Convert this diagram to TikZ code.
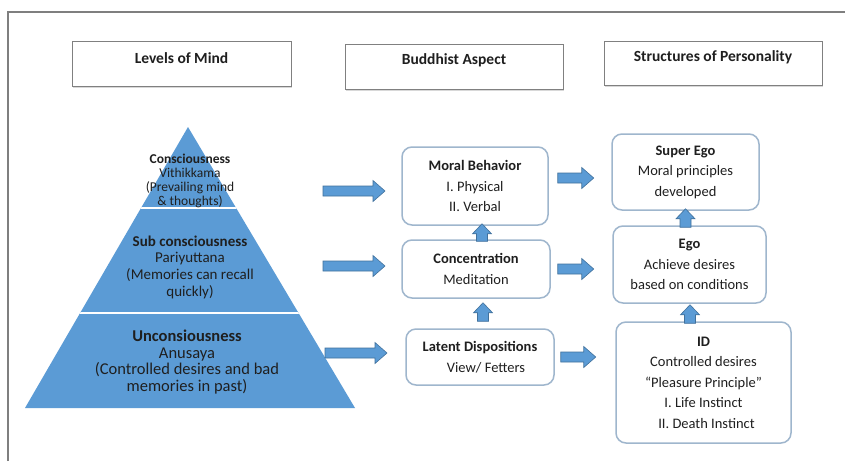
\documentclass[tikz,border=0pt]{standalone}
\usepackage{fontspec}
\setmainfont{Carlito}
\usetikzlibrary{calc,shadows}
\definecolor{pblue}{HTML}{5B9BD5}
\definecolor{aedge}{HTML}{41719C}
\definecolor{bedge}{HTML}{9FB6CD}
\definecolor{hedge}{HTML}{808080}
\definecolor{txt}{HTML}{1F1F1F}
\definecolor{frm}{HTML}{7F7F7F}
\newcommand{\blockarr}[5]{%
  \coordinate (ah) at ($(#2)!#5!(#1)$);
  \draw[barr] ($(#1)!#3!90:(#2)$) -- ($(ah)!#3!90:(#2)$) -- ($(ah)!#4!90:(#2)$) -- (#2)
    -- ($(ah)!#4!-90:(#2)$) -- ($(ah)!#3!-90:(#2)$) -- ($(#1)!#3!-90:(#2)$) -- cycle;}
\begin{document}
\begin{tikzpicture}[x=1pt,y=-1pt,
  hdr/.style={draw=hedge, line width=1pt, fill=white,
    drop shadow={shadow xshift=1.2pt, shadow yshift=-1.5pt, opacity=0.3}, inner sep=0pt},
  hdrtxt/.style={font=\fontsize{15.5}{18}\selectfont\bfseries, text=txt, inner sep=0pt},
  rbox/.style={draw=bedge, line width=1.5pt, rounded corners=10pt, fill=white, align=center,
    inner sep=0pt, text=txt, font=\fontsize{14.5}{20.5}\selectfont},
  pyrtxt/.style={align=center, text=txt, inner sep=0pt},
  barr/.style={fill=pblue, draw=aedge, line width=0.6pt, line join=miter}]
\useasboundingbox (0,0) rectangle (845,461);
\fill[white] (0,0) rectangle (845,461);
% frame
\draw[frm, line width=2pt] (8,461) -- (8,12) -- (845,12);
% headers
\node[hdr, minimum width=219pt, minimum height=45pt] (h1) at (181.5,64) {};
\node[hdrtxt] (h1t) at (181.5,58) {Levels of Mind};
\node[hdr, minimum width=218pt, minimum height=45pt] (h2) at (454,66.5) {};
\node[hdrtxt] (h2t) at (454,60) {Buddhist Aspect};
\node[hdr, minimum width=218pt, minimum height=44pt] (h3) at (713,63) {};
\node[hdrtxt] (h3t) at (713,57) {Structures of Personality};
% pyramid
\fill[pblue] (188,127) -- (355,408) -- (25,408) -- cycle;
\begin{scope}
  \clip (188,127) -- (355,408) -- (25,408) -- cycle;
  \draw[white, line width=2pt] (20,208) -- (360,208);
  \draw[white, line width=2pt] (20,313) -- (360,313);
\end{scope}
\node[pyrtxt, font=\fontsize{13.5}{14}\selectfont] (t1) at (190,181)
  {\textbf{Consciousness}\\Vithikkama\\(Prevailing mind\\\& thoughts)};
\node[pyrtxt, font=\fontsize{15}{16.7}\selectfont] (t2) at (190,267)
  {\textbf{Sub consciousness}\\Pariyuttana\\(Memories can recall\\quickly)};
\node[pyrtxt, font=\fontsize{16.5}{16.9}\selectfont] (t3) at (187,362)
  {\textbf{Unconsiousness}\\Anusaya\\(Controlled desires and bad\\memories in past)};
% middle boxes
\node[rbox, minimum width=146pt, minimum height=78pt] (mb) at (475,186)
  {\textbf{Moral Behavior}\\I. Physical\\II. Verbal};
\node[rbox, minimum width=148pt, minimum height=58pt] (co) at (476,269)
  {\textbf{Concentration}\\Meditation};
\node[rbox, minimum width=148pt, minimum height=56pt] (ld) at (480,357)
  {\textbf{Latent Dispositions}\\\hspace*{12pt}View/ Fetters};
% right boxes
\node[rbox, minimum width=147pt, minimum height=76pt] (se) at (685.5,172)
  {\textbf{Super Ego}\\Moral principles\\developed};
\node[rbox, minimum width=153pt, minimum height=77pt] (eg) at (689.5,264.5)
  {\textbf{Ego}\\Achieve desires\\based on conditions};
\node[rbox, minimum width=175pt, minimum height=121pt] (id) at (703.5,382.5)
  {\textbf{ID}\\Controlled desires\\``Pleasure Principle''\\I. Life Instinct\\\hspace*{6pt}II. Death Instinct};
% arrow end points
\coordinate (a1s) at (323,191); \coordinate (a1e) at (385,191);
\coordinate (a2s) at (323,266); \coordinate (a2e) at (385,266);
\coordinate (a3s) at (325,353); \coordinate (a3e) at (387,353);
\coordinate (b1s) at ($(mb.east)+(9,-8)$); \coordinate (b1e) at ($(mb.east)+(45,-8)$);
\coordinate (b2s) at ($(co.east)+(7,0)$); \coordinate (b2e) at ($(co.east)+(43,0)$);
\coordinate (b3s) at ($(ld.east)+(6,0)$); \coordinate (b3e) at ($(ld.east)+(41,0)$);
\coordinate (u1s) at ($(co.north)+(6,2)$); \coordinate (u1e) at ($(mb.south)+(7,-2)$);
\coordinate (u2s) at ($(ld.north)+(3,-7)$); \coordinate (u2e) at ($(co.south)+(7,4)$);
\coordinate (u3s) at ($(eg.north)+(-4,2)$); \coordinate (u3e) at ($(se.south)+(0,-2)$);
\coordinate (u4s) at ($(id.north)+(-13.5,2)$); \coordinate (u4e) at ($(eg.south)+(0.5,1)$);
% arrows
\blockarr{a1s}{a1e}{5pt}{10.5pt}{12pt}
\blockarr{a2s}{a2e}{5pt}{10.5pt}{12pt}
\blockarr{a3s}{a3e}{5pt}{10.5pt}{12pt}
\blockarr{b1s}{b1e}{5pt}{10.5pt}{12pt}
\blockarr{b2s}{b2e}{5pt}{10.5pt}{12pt}
\blockarr{b3s}{b3e}{5pt}{10.5pt}{12pt}
\blockarr{u1s}{u1e}{5.5pt}{9.5pt}{10pt}
\blockarr{u2s}{u2e}{5.5pt}{9.5pt}{10pt}
\blockarr{u3s}{u3e}{5.5pt}{9.5pt}{10pt}
\blockarr{u4s}{u4e}{5.5pt}{9.5pt}{10pt}
\end{tikzpicture}
\end{document}
